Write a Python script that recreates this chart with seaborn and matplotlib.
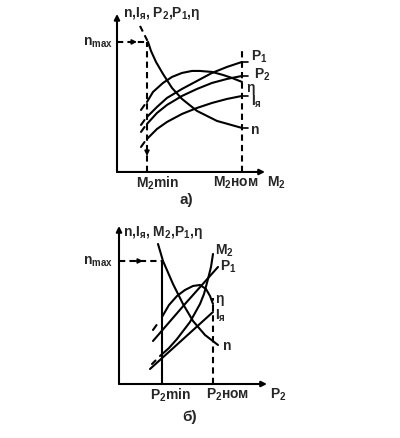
import matplotlib
matplotlib.use('Agg')
import matplotlib.pyplot as plt
import seaborn as sns

# ---- panel a): curves vs M2 (units: M2min = 3.0, M2nom = 12.5) ----
m2_min = 3.0
m2_nom = 12.5
n_max_a = 13.0

n_a_x = [3.1, 3.4, 3.9, 4.6, 5.5, 6.5, 8.0, 10.0, 12.5]
n_a_y = [13.0, 12.1, 11.0, 9.8, 8.4, 7.3, 6.1, 5.1, 4.4]
eta_a_x = [3.0, 3.6, 4.6, 5.5, 6.5, 7.5, 8.3, 9.5, 10.6, 11.5, 12.5]
eta_a_y = [7.0, 8.0, 8.9, 9.5, 9.9, 10.1, 10.1, 10.0, 9.7, 9.4, 9.0]
p1_a_x = [3.0, 4.0, 5.0, 6.5, 8.0, 9.5, 11.0, 12.5]
p1_a_y = [5.5, 6.5, 7.4, 8.3, 9.1, 9.9, 10.5, 11.0]
p2_a_y = [4.8, 5.9, 6.7, 7.6, 8.3, 8.9, 9.3, 9.6]
ia_a_y = [3.3, 4.3, 5.0, 5.8, 6.4, 6.9, 7.3, 7.6]

# ---- panel б): curves vs P2 (units: P2min = 4.3, P2nom = 9.4) ----
p2_min = 4.3
p2_nom = 9.4
n_max_b = 12.3

n_b_x = [3.9, 4.4, 5.4, 6.4, 7.4, 8.6, 9.9]
n_b_y = [14.0, 12.3, 10.0, 8.0, 6.3, 4.9, 3.9]
m2_b_x = [4.1, 5.0, 5.8, 7.1, 8.1, 8.5, 8.9, 9.2, 9.4]
m2_b_y = [2.8, 3.6, 4.5, 6.2, 8.0, 9.0, 10.5, 11.7, 13.0]
p1_b_x = [3.4, 6.6, 9.9]
p1_b_y = [4.3, 8.0, 11.7]
eta_b_x = [4.3, 5.0, 5.8, 6.6, 7.4, 8.1, 8.7, 9.1, 9.4]
eta_b_y = [6.7, 7.9, 8.8, 9.4, 9.8, 9.9, 9.5, 8.8, 8.0]
ia_b_x = [3.1, 6.2, 9.4]
ia_b_y = [1.5, 4.3, 7.2]

sns.set_style('white')
plt.rcParams['font.family'] = ['Liberation Sans', 'DejaVu Sans']
plt.rcParams['font.weight'] = 'bold'
plt.rcParams['mathtext.fontset'] = 'custom'
plt.rcParams['mathtext.rm'] = 'Liberation Sans:bold'
plt.rcParams['mathtext.it'] = 'Liberation Sans:bold'
plt.rcParams['mathtext.bf'] = 'Liberation Sans:bold'

LW = 1.5
DASH = (0, (3, 2))
FS = 10

fig = plt.figure(figsize=(4.0, 4.39), dpi=100)
ax_a = fig.add_axes([0.2925, 0.606, 0.37, 0.36])
ax_b = fig.add_axes([0.2975, 0.123, 0.37, 0.36])


def draw_frame(ax):
    ax.set_xlim(0, 14.8)
    ax.set_ylim(0, 15.8)
    ax.axis('off')
    arrow = dict(arrowstyle='-|>', lw=LW, color='k', mutation_scale=8,
                 shrinkA=0, shrinkB=0)
    ax.annotate('', xy=(0, 15.8), xytext=(0, 0), arrowprops=arrow,
                annotation_clip=False)
    ax.annotate('', xy=(14.8, 0), xytext=(0, 0), arrowprops=arrow,
                annotation_clip=False)


def small_arrow(ax, x0, y0, x1, y1):
    ax.annotate('', xy=(x1, y1), xytext=(x0, y0),
                arrowprops=dict(arrowstyle='-|>', lw=1.2, color='k',
                                mutation_scale=7, shrinkA=0, shrinkB=0),
                annotation_clip=False)


def stub(ax, x, y, dx, slope):
    # short dashed continuation of a curve to the left
    ax.plot([x - dx, x - 0.15], [y - slope * dx, y - slope * 0.15],
            color='k', lw=LW)


# ---------------- panel a ----------------
ax = ax_a
draw_frame(ax)
sns.lineplot(x=n_a_x, y=n_a_y, ax=ax, color='k', lw=LW)
sns.lineplot(x=eta_a_x, y=eta_a_y, ax=ax, color='k', lw=LW)
sns.lineplot(x=p1_a_x, y=p1_a_y, ax=ax, color='k', lw=LW)
sns.lineplot(x=p1_a_x, y=p2_a_y, ax=ax, color='k', lw=LW)
sns.lineplot(x=p1_a_x, y=ia_a_y, ax=ax, color='k', lw=LW)

# dashed beginning of n
ax.plot([2.3, n_a_x[0]], [14.6, n_a_y[0]], color='k', lw=LW, ls=DASH)
# dashed stubs left of M2min
stub(ax, eta_a_x[0] - 0.1, eta_a_y[0] - 0.1, 0.5, 1.4)
stub(ax, p1_a_x[0] - 0.1, p1_a_y[0] - 0.1, 0.5, 1.4)
stub(ax, p1_a_x[0] - 0.1, p2_a_y[0] - 0.1, 0.5, 1.4)
stub(ax, p1_a_x[0] - 0.1, ia_a_y[0] - 0.1, 0.5, 1.4)

ax.plot([0, m2_min], [n_max_a, n_max_a], color='k', lw=LW, ls=DASH)
small_arrow(ax, 1.2, n_max_a, 2.0, n_max_a)
ax.plot([m2_min, m2_min], [0, n_max_a], color='k', lw=LW, ls=DASH)
small_arrow(ax, m2_min, 2.6, m2_min, 1.6)
ax.plot([m2_nom, m2_nom], [0, 12.1], color='k', lw=LW, ls=DASH)

for yv in [p1_a_y[-1], p2_a_y[-1], ia_a_y[-1], n_a_y[-1]]:
    ax.plot([m2_nom, m2_nom + 0.6], [yv, yv], color='k', lw=1.2)

ax.text(13.4, 11.6, '$P_1$', fontsize=FS, va='center', ha='left')
ax.text(13.7, 9.8, '$P_2$', fontsize=FS, va='center', ha='left')
ax.text(12.9, 8.5, 'η', fontsize=FS, va='center', ha='left')
ax.text(13.4, 7.1, '$I_я$', fontsize=FS, va='center', ha='left')
ax.text(13.4, 4.3, 'n', fontsize=FS, va='center', ha='left')

ax.text(0.6, 15.9, 'n,$I_я$, $P_2$,$P_1$,η', fontsize=FS, va='center',
        ha='left', clip_on=False)
ax.text(-0.4, n_max_a, '$n_{max}$', fontsize=FS, va='center', ha='right')
ax.text(4.1, -1.0, '$M_2$min', fontsize=FS, va='center', ha='center')
ax.text(11.9, -1.0, '$M_2$ном', fontsize=FS, va='center', ha='center')
ax.text(15.0, -1.0, '$M_2$', fontsize=FS, va='center', ha='left')
ax.text(6.9, -2.7, 'а)', fontsize=11, va='center', ha='center')

# ---------------- panel б ----------------
ax = ax_b
draw_frame(ax)
sns.lineplot(x=n_b_x, y=n_b_y, ax=ax, color='k', lw=LW)
sns.lineplot(x=m2_b_x, y=m2_b_y, ax=ax, color='k', lw=LW)
sns.lineplot(x=p1_b_x, y=p1_b_y, ax=ax, color='k', lw=LW)
sns.lineplot(x=eta_b_x, y=eta_b_y, ax=ax, color='k', lw=LW)
sns.lineplot(x=ia_b_x, y=ia_b_y, ax=ax, color='k', lw=LW)

stub(ax, eta_b_x[0] - 0.4, eta_b_y[0] - 0.6, 0.5, 1.4)
stub(ax, m2_b_x[0] - 0.3, m2_b_y[0] - 0.3, 0.5, 1.0)

ax.plot([0, p2_min], [n_max_b, n_max_b], color='k', lw=LW, ls=DASH)
small_arrow(ax, 1.6, n_max_b, 2.4, n_max_b)
ax.plot([p2_min, p2_min], [0, n_max_b], color='k', lw=LW)
ax.plot([p2_nom, p2_nom], [0, 8.6], color='k', lw=LW, ls=DASH)

ax.text(9.6, 13.4, '$M_2$', fontsize=FS, va='center', ha='left')
ax.text(10.1, 11.8, '$P_1$', fontsize=FS, va='center', ha='left')
ax.text(9.6, 8.6, 'η', fontsize=FS, va='center', ha='left')
ax.text(9.6, 6.9, '$I_я$', fontsize=FS, va='center', ha='left')
ax.text(10.4, 3.9, 'n', fontsize=FS, va='center', ha='left')

ax.text(0.4, 15.2, 'n,$I_я$, $M_2$,$P_1$,η', fontsize=FS, va='center',
        ha='left', clip_on=False)
ax.text(-0.6, n_max_b, '$n_{max}$', fontsize=FS, va='center', ha='right')
ax.text(5.1, -1.0, '$P_2$min', fontsize=FS, va='center', ha='center')
ax.text(10.9, -1.0, '$P_2$ном', fontsize=FS, va='center', ha='center')
ax.text(15.1, -1.0, '$P_2$', fontsize=FS, va='center', ha='left')
ax.text(7.1, -3.2, 'б)', fontsize=11, va='center', ha='center')

fig.savefig('out.png', dpi=100, facecolor='white')
